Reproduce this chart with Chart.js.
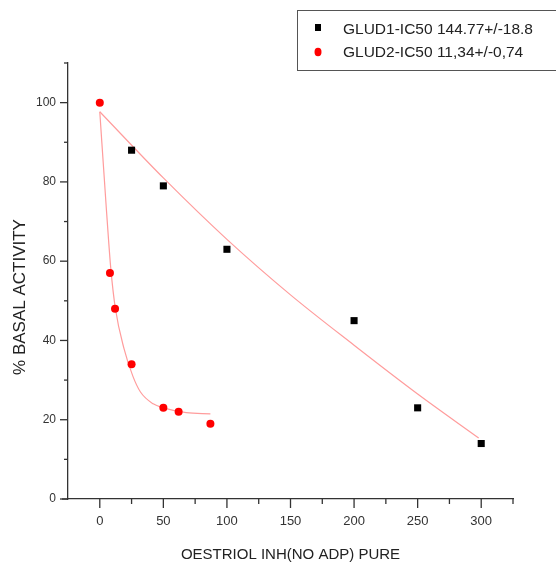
<!DOCTYPE html>
<html>
<head>
<meta charset="utf-8">
<script src="https://cdn.jsdelivr.net/npm/chart.js@4.4.1/dist/chart.umd.min.js"></script>
<style>
  html, body { margin: 0; padding: 0; background: #fff; }
  canvas { display: block; }
</style>
</head>
<body>
<canvas id="myChart" width="556" height="564"></canvas>
<script>
// measured activity, GLUD1 (squares) and GLUD2 (circles)
const glud1X = [25, 50, 100, 200, 250, 300];
const glud1Y = [88, 79, 63, 45, 23, 14];
const glud2X = [0, 8, 12, 25, 50, 62, 87];
const glud2Y = [100, 57, 48, 34, 23, 22, 19];

// fitted curves as plotted
const fit1X = [0, 50, 100, 150, 200, 250, 298];
const fit1Y = [97.7, 81, 65.5, 51.5, 38.8, 26.5, 15.4];
const fit2X = [0, 5, 8.7, 12.3, 19, 26, 32, 42, 50, 68, 87];
const fit2Y = [97.7, 74, 58, 48, 38, 31, 27, 24, 23, 21.8, 21.5];

const legendLabels = ['GLUD1-IC50 144.77+/-18.8', 'GLUD2-IC50 11,34+/-0,74'];

const xMajor = [0, 50, 100, 150, 200, 250, 300];
const xMinor = [25, 75, 125, 175, 225, 275, 325];
const yMajor = [0, 20, 40, 60, 80, 100];
const yMinor = [10, 30, 50, 70, 90, 110];

const FONT = '"Liberation Sans", Arial, sans-serif';
const AXIS = '#333';
const FIT = '#ff9c9c';

const toPoints = (xs, ys) => xs.map((x, i) => ({ x, y: ys[i] }));

// tick marks, y title and the boxed legend
const decorations = {
    id: 'decorations',
    afterDraw(chart) {
        const { ctx, scales: { x, y } } = chart;
        ctx.save();
        ctx.strokeStyle = AXIS;
        ctx.lineWidth = 1.3;
        const seg = (x0, y0, x1, y1) => {
            ctx.beginPath();
            ctx.moveTo(x0, y0);
            ctx.lineTo(x1, y1);
            ctx.stroke();
        };
        xMajor.forEach(v => { const px = x.getPixelForValue(v); seg(px, y.bottom, px, y.bottom + 9); });
        xMinor.forEach(v => { const px = x.getPixelForValue(v); seg(px, y.bottom, px, y.bottom + 5); });
        yMajor.forEach(v => { const py = y.getPixelForValue(v); seg(x.left, py, x.left - 8, py); });
        yMinor.forEach(v => { const py = y.getPixelForValue(v); seg(x.left, py, x.left - 4, py); });
        seg(x.left - 6, y.bottom, x.left, y.bottom);

        // y axis title
        ctx.fillStyle = '#222';
        ctx.font = '17px ' + FONT;
        ctx.textAlign = 'center';
        ctx.textBaseline = 'middle';
        ctx.translate(20, 297);
        ctx.rotate(-Math.PI / 2);
        ctx.fillText('% BASAL ACTIVITY', 0, 0);
        ctx.restore();

        // legend
        ctx.save();
        ctx.strokeStyle = '#555';
        ctx.lineWidth = 1;
        ctx.strokeRect(297.5, 10.5, 300, 60);
        ctx.fillStyle = '#000';
        ctx.fillRect(315, 24, 6, 7);
        ctx.fillStyle = '#ff0000';
        ctx.beginPath();
        ctx.ellipse(318, 52, 3.5, 4.2, 0, 0, Math.PI * 2);
        ctx.fill();
        ctx.fillStyle = '#222';
        ctx.font = '15.5px ' + FONT;
        ctx.textAlign = 'left';
        ctx.textBaseline = 'middle';
        ctx.fillText(legendLabels[0], 343, 30);
        ctx.fillText(legendLabels[1], 343, 53);
        ctx.restore();
    }
};

const chart = new Chart(document.getElementById('myChart').getContext('2d'), {
    type: 'scatter',
    data: {
        datasets: [
            {
                label: legendLabels[1],
                data: toPoints(glud2X, glud2Y),
                pointStyle: 'circle',
                pointRadius: 4,
                backgroundColor: '#ff0000',
                borderWidth: 0,
                order: 0
            },
            {
                label: legendLabels[0],
                data: toPoints(glud1X, glud1Y),
                pointStyle: 'rect',
                pointRadius: 5,
                backgroundColor: '#000',
                borderWidth: 0,
                order: 1
            },
            {
                label: 'fit1',
                data: toPoints(fit1X, fit1Y),
                showLine: true,
                borderColor: FIT,
                borderWidth: 1.2,
                pointRadius: 0,
                cubicInterpolationMode: 'monotone',
                order: 2
            },
            {
                label: 'fit2',
                data: toPoints(fit2X, fit2Y),
                showLine: true,
                borderColor: FIT,
                borderWidth: 1.2,
                pointRadius: 0,
                cubicInterpolationMode: 'monotone',
                order: 3
            }
        ]
    },
    options: {
        responsive: false,
        animation: false,
        layout: { padding: { top: 63, right: 43, left: 0, bottom: 0 } },
        plugins: {
            legend: { display: false },
            tooltip: { enabled: false }
        },
        scales: {
            x: {
                type: 'linear',
                min: -25,
                max: 325,
                afterFit: s => { s.height = 65; },
                afterBuildTicks: s => { s.ticks = xMajor.map(v => ({ value: v })); },
                grid: { display: false, drawTicks: false },
                border: { display: true, color: AXIS, width: 1.3 },
                ticks: { padding: 15, color: '#333', font: { family: FONT, size: 13 }, maxRotation: 0 },
                title: {
                    display: true,
                    text: 'OESTRIOL INH(NO ADP) PURE',
                    color: '#222',
                    font: { family: FONT, size: 15 },
                    padding: { top: 0, bottom: 0 }
                }
            },
            y: {
                type: 'linear',
                min: 0,
                max: 110,
                afterFit: s => { s.width = 68; },
                afterBuildTicks: s => { s.ticks = yMajor.map(v => ({ value: v })); },
                grid: { display: false, drawTicks: false },
                border: { display: true, color: AXIS, width: 1.3 },
                ticks: { padding: 12, color: '#333', font: { family: FONT, size: 12 } }
            }
        }
    },
    plugins: [decorations]
});
</script>
</body>
</html>
